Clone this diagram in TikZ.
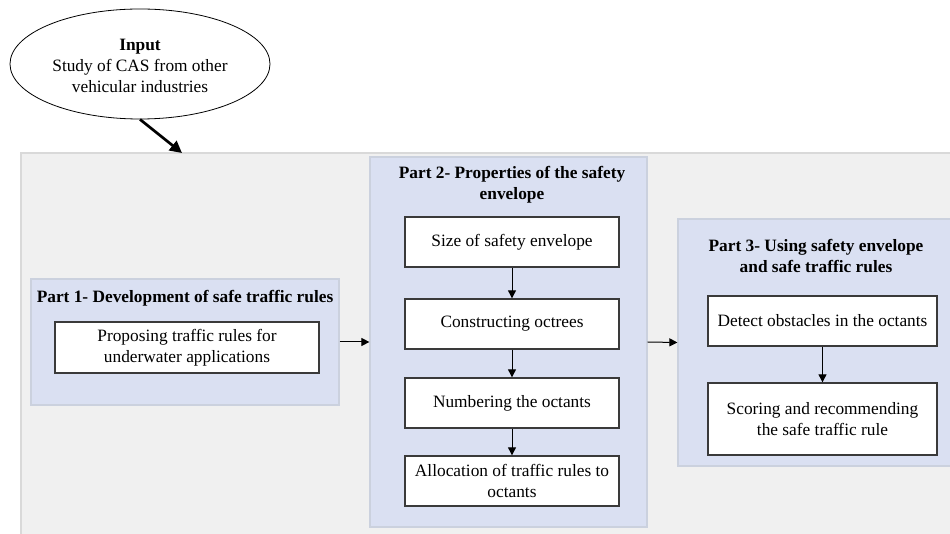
\documentclass[tikz,border=0pt]{standalone}
\usepackage{fontspec}
\setmainfont{Liberation Serif}
\usetikzlibrary{arrows.meta,shapes.geometric}
\definecolor{panelgray}{HTML}{F0F0F0}
\definecolor{panelline}{HTML}{D9D9D9}
\definecolor{partfill}{HTML}{DAE0F2}
\definecolor{partline}{HTML}{CBD1DE}
\definecolor{boxline}{HTML}{3A3A3A}
\tikzset{
  txt/.style={font=\fontsize{13}{15.5}\selectfont, align=center, inner sep=0pt},
  ttl/.style={txt, font=\fontsize{13}{15.5}\selectfont\bfseries},
  part/.style={draw=partline, fill=partfill, line width=0.9pt, rectangle, inner sep=0pt},
  stepbox/.style={txt, draw=boxline, fill=white, line width=1pt, rectangle,
    minimum width=160.5pt, minimum height=37.5pt},
  flow/.style={draw=black, line width=0.75pt, -{Triangle[length=6pt,width=6pt]}},
  bigflow/.style={draw=black, line width=2pt, -{Triangle[length=9pt,width=9pt]}}
}
\begin{document}
\begin{tikzpicture}[x=0.75pt, y=-0.75pt]
  \useasboundingbox (0,0) rectangle (950,534);
  \clip (0,0) rectangle (950,534);

  % large background panel
  \draw[fill=panelgray, draw=panelline, line width=1.5pt] (21,153) rectangle (970,560);

  % input ellipse
  \node[ellipse, draw=black, line width=0.6pt, fill=white, minimum width=195pt, minimum height=82.5pt, inner sep=0pt] (in) at (140,64) {};
  \node[txt] (intext) at (140,66) {\textbf{Input}\\Study of CAS from other\\vehicular industries};
  \coordinate (entry) at (182,153);
  \draw[bigflow] (in.south) -- (entry);

  % part 1
  \node[part, minimum width=231pt, minimum height=94.5pt] (p1) at (185,342) {};
  \node[ttl] (p1t) at (185,298) {Part 1- Development of safe traffic rules};
  \node[stepbox, minimum width=198pt, minimum height=38.25pt] (b1) at (187,347.5) {Proposing traffic rules for\\underwater applications};

  % part 2
  \node[part, minimum width=207.75pt, minimum height=277.5pt] (p2) at (508.5,342) {};
  \node[ttl] (p2t) at (512,185) {Part 2- Properties of the safety\\envelope};
  \node[stepbox] (s1) at (512,242) {Size of safety envelope};
  \node[stepbox] (s2) at (512,324) {Constructing octrees};
  \node[stepbox] (s3) at (512,403) {Numbering the octants};
  \node[stepbox] (s4) at (512,481) {Allocation of traffic rules to\\octants};

  % part 3
  \node[part, minimum width=211.5pt, minimum height=185.25pt] (p3) at (819,342.5) {};
  \node[ttl] (p3t) at (816,256) {Part 3- Using safety envelope\\and safe traffic rules};
  \node[stepbox, minimum width=171.75pt] (u1) at (822.5,321) {Detect obstacles in the octants};
  \node[stepbox, minimum width=171.75pt, minimum height=54pt] (u2) at (822.5,419) {Scoring and recommending\\the safe traffic rule};

  % connectors
  \draw[flow] (p1.east) -- (p2.west);
  \draw[flow] (p2.east) -- (p3.west);
  \draw[flow] (s1.south) -- (s2.north);
  \draw[flow] (s2.south) -- (s3.north);
  \draw[flow] (s3.south) -- (s4.north);
  \draw[flow] (u1.south) -- (u2.north);
\end{tikzpicture}
\end{document}
